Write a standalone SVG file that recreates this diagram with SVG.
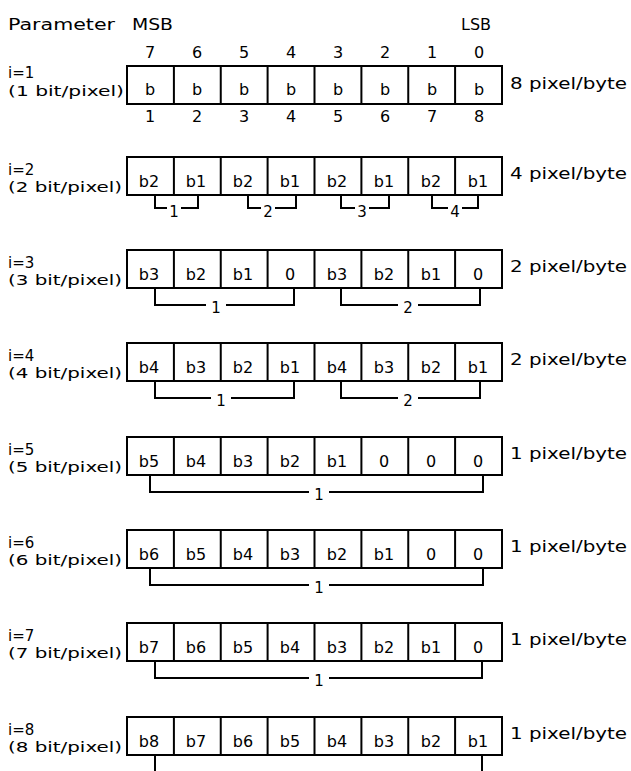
<svg xmlns="http://www.w3.org/2000/svg" width="631" height="771" viewBox="0 0 631 771">
<style>
text{font-family:"DejaVu Sans","Liberation Sans",sans-serif;fill:#000}
.c{font-size:16px;text-anchor:middle}
.n{font-size:16px;text-anchor:middle}
.h{font-size:16px}
.i{font-size:15px}
.l{font-size:14px}
.r{font-size:16px}
.bl{font-size:15px;text-anchor:middle}
.box{fill:#fff;stroke:#000;stroke-width:2}
.div{stroke:#000;stroke-width:2;fill:none}
.br{stroke:#000;stroke-width:2;fill:none}
</style>
<defs>
<g id="grid">
<rect class="box" x="127" y="0" width="375" height="38"/>
<path class="div" d="M173.9 0V38M220.75 0V38M267.6 0V38M314.5 0V38M361.4 0V38M408.25 0V38M455.1 0V38"/>
</g>
</defs>
<rect width="631" height="771" fill="#fff"/>

<g id="header">
<text class="h" x="8" y="30" textLength="107" lengthAdjust="spacingAndGlyphs">Parameter</text>
<text class="h" x="132" y="30" textLength="41" lengthAdjust="spacingAndGlyphs">MSB</text>
<text class="h" x="461" y="30" textLength="30" lengthAdjust="spacingAndGlyphs">LSB</text>
<text class="n" x="150" y="58">7</text><text class="n" x="197" y="58">6</text><text class="n" x="244" y="58">5</text><text class="n" x="291" y="58">4</text><text class="n" x="338" y="58">3</text><text class="n" x="385" y="58">2</text><text class="n" x="432" y="58">1</text><text class="n" x="479" y="58">0</text>
</g>

<g id="row1">
<use href="#grid" y="66"/>
<text class="i" x="8" y="78">i=1</text>
<text class="l" x="8" y="96" textLength="116" lengthAdjust="spacingAndGlyphs">(1 bit/pixel)</text>
<text class="c" x="150" y="95">b</text><text class="c" x="197" y="95">b</text><text class="c" x="244" y="95">b</text><text class="c" x="291" y="95">b</text><text class="c" x="338" y="95">b</text><text class="c" x="385" y="95">b</text><text class="c" x="432" y="95">b</text><text class="c" x="479" y="95">b</text>
<text class="r" x="510" y="89" textLength="117" lengthAdjust="spacingAndGlyphs">8 pixel/byte</text>
<text class="n" x="150" y="122">1</text><text class="n" x="197" y="122">2</text><text class="n" x="244" y="122">3</text><text class="n" x="291" y="122">4</text><text class="n" x="338" y="122">5</text><text class="n" x="385" y="122">6</text><text class="n" x="432" y="122">7</text><text class="n" x="479" y="122">8</text>
</g>

<g id="row2">
<use href="#grid" y="157"/>
<text class="i" x="8" y="175">i=2</text>
<text class="l" x="8" y="192" textLength="114" lengthAdjust="spacingAndGlyphs">(2 bit/pixel)</text>
<text class="c" x="149" y="187">b2</text><text class="c" x="196" y="187">b1</text><text class="c" x="243" y="187">b2</text><text class="c" x="290" y="187">b1</text><text class="c" x="337" y="187">b2</text><text class="c" x="384" y="187">b1</text><text class="c" x="431" y="187">b2</text><text class="c" x="478" y="187">b1</text>
<text class="r" x="510" y="179" textLength="117" lengthAdjust="spacingAndGlyphs">4 pixel/byte</text>
</g>

<g id="row3">
<use href="#grid" y="250"/>
<text class="i" x="8" y="268">i=3</text>
<text class="l" x="8" y="285" textLength="114" lengthAdjust="spacingAndGlyphs">(3 bit/pixel)</text>
<text class="c" x="149" y="280">b3</text><text class="c" x="196" y="280">b2</text><text class="c" x="243" y="280">b1</text><text class="c" x="290" y="280">0</text><text class="c" x="337" y="280">b3</text><text class="c" x="384" y="280">b2</text><text class="c" x="431" y="280">b1</text><text class="c" x="478" y="280">0</text>
<text class="r" x="510" y="272" textLength="117" lengthAdjust="spacingAndGlyphs">2 pixel/byte</text>
</g>

<g id="row4">
<use href="#grid" y="343"/>
<text class="i" x="8" y="361">i=4</text>
<text class="l" x="8" y="378" textLength="114" lengthAdjust="spacingAndGlyphs">(4 bit/pixel)</text>
<text class="c" x="149" y="373">b4</text><text class="c" x="196" y="373">b3</text><text class="c" x="243" y="373">b2</text><text class="c" x="290" y="373">b1</text><text class="c" x="337" y="373">b4</text><text class="c" x="384" y="373">b3</text><text class="c" x="431" y="373">b2</text><text class="c" x="478" y="373">b1</text>
<text class="r" x="510" y="365" textLength="117" lengthAdjust="spacingAndGlyphs">2 pixel/byte</text>
</g>

<g id="row5">
<use href="#grid" y="437"/>
<text class="i" x="8" y="455">i=5</text>
<text class="l" x="8" y="472" textLength="114" lengthAdjust="spacingAndGlyphs">(5 bit/pixel)</text>
<text class="c" x="149" y="467">b5</text><text class="c" x="196" y="467">b4</text><text class="c" x="243" y="467">b3</text><text class="c" x="290" y="467">b2</text><text class="c" x="337" y="467">b1</text><text class="c" x="384" y="467">0</text><text class="c" x="431" y="467">0</text><text class="c" x="478" y="467">0</text>
<text class="r" x="510" y="459" textLength="117" lengthAdjust="spacingAndGlyphs">1 pixel/byte</text>
</g>

<g id="row6">
<use href="#grid" y="530"/>
<text class="i" x="8" y="548">i=6</text>
<text class="l" x="8" y="565" textLength="114" lengthAdjust="spacingAndGlyphs">(6 bit/pixel)</text>
<text class="c" x="149" y="560">b6</text><text class="c" x="196" y="560">b5</text><text class="c" x="243" y="560">b4</text><text class="c" x="290" y="560">b3</text><text class="c" x="337" y="560">b2</text><text class="c" x="384" y="560">b1</text><text class="c" x="431" y="560">0</text><text class="c" x="478" y="560">0</text>
<text class="r" x="510" y="552" textLength="117" lengthAdjust="spacingAndGlyphs">1 pixel/byte</text>
</g>

<g id="row7">
<use href="#grid" y="623"/>
<text class="i" x="8" y="641">i=7</text>
<text class="l" x="8" y="658" textLength="114" lengthAdjust="spacingAndGlyphs">(7 bit/pixel)</text>
<text class="c" x="149" y="653">b7</text><text class="c" x="196" y="653">b6</text><text class="c" x="243" y="653">b5</text><text class="c" x="290" y="653">b4</text><text class="c" x="337" y="653">b3</text><text class="c" x="384" y="653">b2</text><text class="c" x="431" y="653">b1</text><text class="c" x="478" y="653">0</text>
<text class="r" x="510" y="645" textLength="117" lengthAdjust="spacingAndGlyphs">1 pixel/byte</text>
</g>

<g id="row8">
<use href="#grid" y="717"/>
<text class="i" x="8" y="735">i=8</text>
<text class="l" x="8" y="752" textLength="114" lengthAdjust="spacingAndGlyphs">(8 bit/pixel)</text>
<text class="c" x="149" y="747">b8</text><text class="c" x="196" y="747">b7</text><text class="c" x="243" y="747">b6</text><text class="c" x="290" y="747">b5</text><text class="c" x="337" y="747">b4</text><text class="c" x="384" y="747">b3</text><text class="c" x="431" y="747">b2</text><text class="c" x="478" y="747">b1</text>
<text class="r" x="510" y="739" textLength="117" lengthAdjust="spacingAndGlyphs">1 pixel/byte</text>
</g>

<g id="connectors">
<path class="br" d="M155 195V208H167M181 208H198V195M248 195V208H261M275 208H296V195M341 195V208H355M369 208H389V195M432 195V208H448M462 208H478V195"/>
<text class="bl" x="174" y="217">1</text><text class="bl" x="268" y="217">2</text><text class="bl" x="362" y="217">3</text><text class="bl" x="455" y="217">4</text>

<path class="br" d="M155 288V305H206M226 305H294V288M341 288V305H398M418 305H480V288"/>
<text class="bl" x="216" y="313">1</text><text class="bl" x="408" y="313">2</text>

<path class="br" d="M155 381V398H211M231 398H294V381M341 381V398H398M418 398H480V381"/>
<text class="bl" x="221" y="406">1</text><text class="bl" x="408" y="406">2</text>

<path class="br" d="M150 475V492H309M329 492H483V475"/>
<text class="bl" x="319" y="500">1</text>

<path class="br" d="M150 568V585H309M329 585H483V568"/>
<text class="bl" x="319" y="593">1</text>

<path class="br" d="M155 661V678H309M329 678H482V661"/>
<text class="bl" x="319" y="686">1</text>

<path class="br" d="M155 755V771M482 755V771"/>
</g>
</svg>
